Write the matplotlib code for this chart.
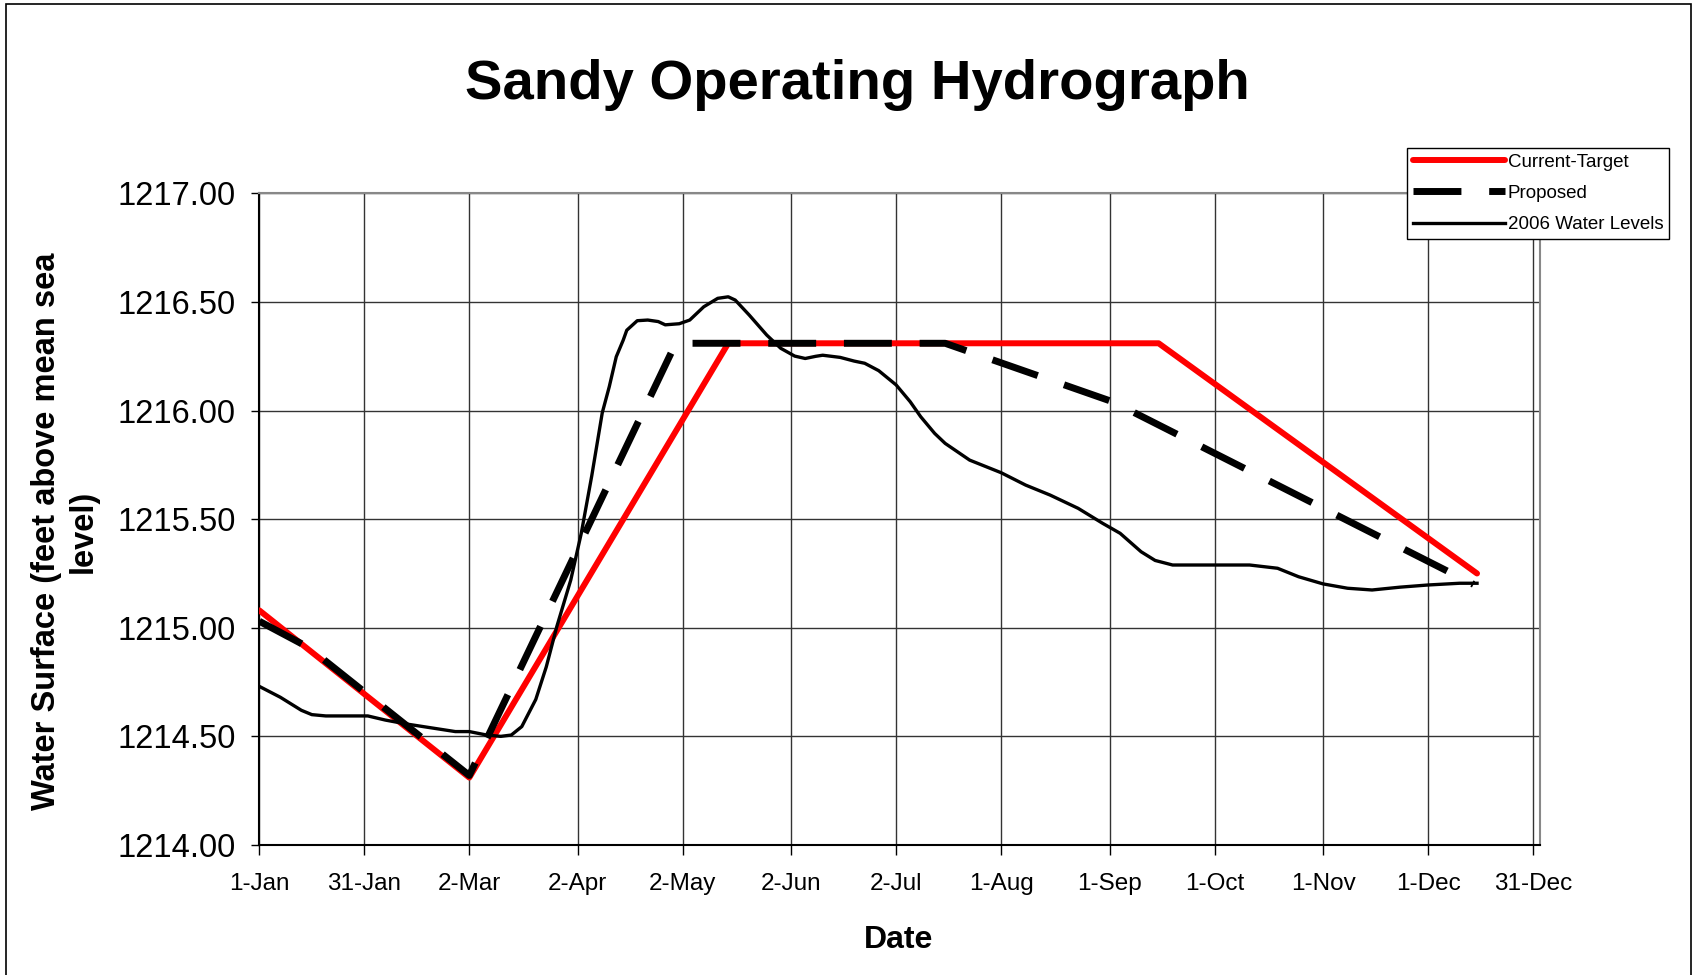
import numpy as np
import matplotlib
matplotlib.use('Agg')
from matplotlib import pyplot as plt
from matplotlib.patches import Rectangle

plt.rcParams['font.family'] = ['Liberation Sans', 'DejaVu Sans']

# day of year (0 = 1-Jan) and water surface elevation
target_days = [0, 60, 134, 257, 348]
target_vals = [1215.08, 1214.31, 1216.31, 1216.31, 1215.25]

proposed_days = [0, 14, 60, 119, 196, 244, 347]
proposed_vals = [1215.03, 1214.91, 1214.32, 1216.31, 1216.31, 1216.04, 1215.20]

levels_days = [0, 6, 12, 15, 19, 31, 36, 42, 50, 56, 60, 65, 69, 72, 75, 79, 82,
               85, 89, 92, 95, 98, 100, 102, 104, 105, 108, 111, 114, 116, 120,
               123, 127, 131, 134, 136, 140, 145, 149, 153, 156, 159, 161, 166,
               170, 173, 177, 182, 186, 189, 193, 196, 203, 212, 219, 226, 234,
               241, 246, 252, 256, 261, 283, 291, 297, 304, 311, 318, 326, 334,
               343, 348]
levels_vals = [1214.73, 1214.68, 1214.62, 1214.60, 1214.594, 1214.594, 1214.575,
               1214.557, 1214.537, 1214.522, 1214.522, 1214.506, 1214.50, 1214.506,
               1214.545, 1214.67, 1214.82, 1215.005, 1215.22, 1215.435, 1215.70,
               1215.99, 1216.11, 1216.248, 1216.325, 1216.37, 1216.414, 1216.417,
               1216.41, 1216.395, 1216.40, 1216.417, 1216.478, 1216.517, 1216.524,
               1216.509, 1216.44, 1216.348, 1216.287, 1216.251, 1216.24, 1216.25,
               1216.255, 1216.245, 1216.228, 1216.218, 1216.184, 1216.118, 1216.041,
               1215.972, 1215.895, 1215.849, 1215.772, 1215.714, 1215.657, 1215.611,
               1215.55, 1215.481, 1215.435, 1215.35, 1215.31, 1215.289, 1215.289,
               1215.274, 1215.235, 1215.202, 1215.182, 1215.174, 1215.187, 1215.197,
               1215.205, 1215.205]

tick_days = [0, 30, 60, 91, 121, 152, 182, 212, 243, 273, 304, 334, 364]
tick_labels = ['1-Jan', '31-Jan', '2-Mar', '2-Apr', '2-May', '2-Jun', '2-Jul',
               '1-Aug', '1-Sep', '1-Oct', '1-Nov', '1-Dec', '31-Dec']
y_ticks = [1214.0, 1214.5, 1215.0, 1215.5, 1216.0, 1216.5, 1217.0]

fig = plt.figure(figsize=(16.94, 9.75), dpi=100)
ax = fig.add_axes([0.1531, 0.1334, 0.756, 0.6682])

ax.plot(target_days, target_vals, color='#ff0000', lw=4.3,
        solid_capstyle='round', label='Current-Target', zorder=3)
ax.plot(proposed_days, proposed_vals, color='black', lw=5, dashes=(6.9, 4.0),
        label='Proposed', zorder=4)
ax.plot(levels_days, levels_vals, color='black', lw=2.4,
        label='2006 Water Levels', zorder=5)

ax.set_xlim(0, 366)
ax.set_ylim(1214, 1217)
ax.set_xticks(tick_days)
ax.set_xticklabels(tick_labels)
ax.set_yticks(y_ticks)
ax.set_yticklabels(['%.2f' % v for v in y_ticks])
ax.tick_params(axis='x', direction='out', length=7, width=1, labelsize=17.5, pad=13)
ax.tick_params(axis='y', direction='out', length=6, width=1, labelsize=23.5, pad=11)

ax.grid(True, color='#333333', lw=1.0)
ax.set_axisbelow(True)
ax.spines['left'].set_color('black')
ax.spines['bottom'].set_color('black')
ax.spines['top'].set_color('#888888')
ax.spines['right'].set_color('#888888')
for s in ax.spines.values():
    s.set_linewidth(1.5)

fig.text(0.506, 0.898, 'Sandy Operating Hydrograph', fontsize=40.5,
         fontweight='bold', ha='center', va='baseline')
fig.text(0.0383, 0.4554, 'Water Surface (feet above mean sea\nlevel)',
         fontsize=23.5, fontweight='bold', rotation=90, ha='center',
         va='center', multialignment='center')
fig.text(0.5305, 0.0282, 'Date', fontsize=23, fontweight='bold',
         ha='center', va='baseline')

leg = ax.legend(loc='upper right', bbox_to_anchor=(0.9852, 0.8482),
                bbox_transform=fig.transFigure, fontsize=13.5, handlelength=4.9,
                handletextpad=0.15, borderpad=0.3, labelspacing=0.75,
                borderaxespad=0, fancybox=False, framealpha=1)
leg.get_frame().set_edgecolor('black')
leg.get_frame().set_linewidth(1.0)

# outer chart border
fig.patches.append(Rectangle((0.0038, -0.01), 0.9944, 1.0064, fill=False,
                             edgecolor='black', lw=1.2, transform=fig.transFigure))

fig.savefig('out.png', dpi=100)
